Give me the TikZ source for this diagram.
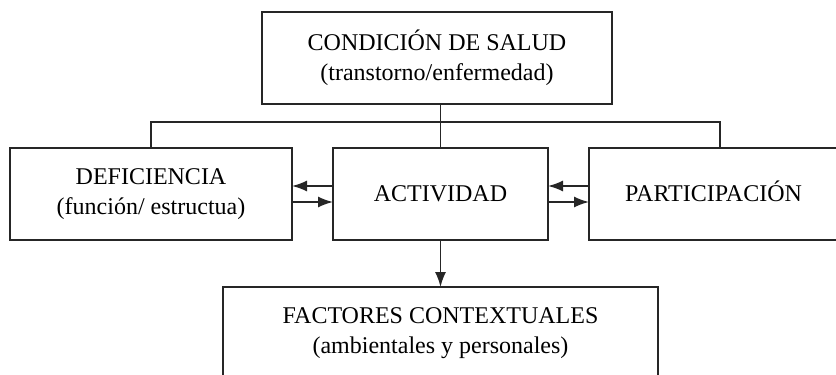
\documentclass[tikz,border=0pt]{standalone}
\usepackage{fontspec}
\setmainfont{Liberation Serif}
\usetikzlibrary{arrows.meta}
\tikzset{inner sep=0pt, outer sep=0pt}
\tikzset{
  caja/.style={draw=black!85, line width=0.75pt, align=center,
    minimum height=46pt, font=\fontsize{12}{15}\selectfont},
  linea/.style={draw=black!85, line width=0.75pt},
  flecha/.style={linea, -{Latex[length=7.5pt, width=5.5pt]}}
}

\begin{document}
\begin{tikzpicture}[x=0.5pt, y=-0.5pt]
\useasboundingbox (0,0) rectangle (836,375);
% cajas
\node[caja, minimum width=175pt] (salud) at (437,58)
  {CONDICIÓN DE SALUD\\(transtorno/enfermedad)};
\node[caja, minimum width=141pt] (deficiencia) at (151,194)
  {DEFICIENCIA\\(función/ estructua)};
\node[caja, minimum width=107.5pt] (actividad) at (440.5,194) {ACTIVIDAD};
\node[caja, minimum width=124.5pt, text height=7.9pt] (participacion) at (713.5,194) {PARTICIPACIÓN};
\node[caja, minimum width=217.5pt] (factores) at (440.5,333)
  {FACTORES CONTEXTUALES\\(ambientales y personales)};
% lineas
\coordinate (barl) at (151,122);
\coordinate (barr) at (720,122);
\draw[linea] (salud.south -| actividad.north) -- (actividad.north);
\draw[linea] (deficiencia.north) -- (barl) -- (barr) -- (barr |- participacion.north);
% flechas
\draw[flecha] ([yshift=4pt]actividad.west) -- ([yshift=4pt]deficiencia.east);
\draw[flecha] ([yshift=-4pt]deficiencia.east) -- ([yshift=-4pt]actividad.west);
\draw[flecha] ([yshift=4pt]participacion.west) -- ([yshift=4pt]actividad.east);
\draw[flecha] ([yshift=-4pt]actividad.east) -- ([yshift=-4pt]participacion.west);
\draw[flecha] (actividad.south) -- (factores.north);
\end{tikzpicture}
\end{document}
